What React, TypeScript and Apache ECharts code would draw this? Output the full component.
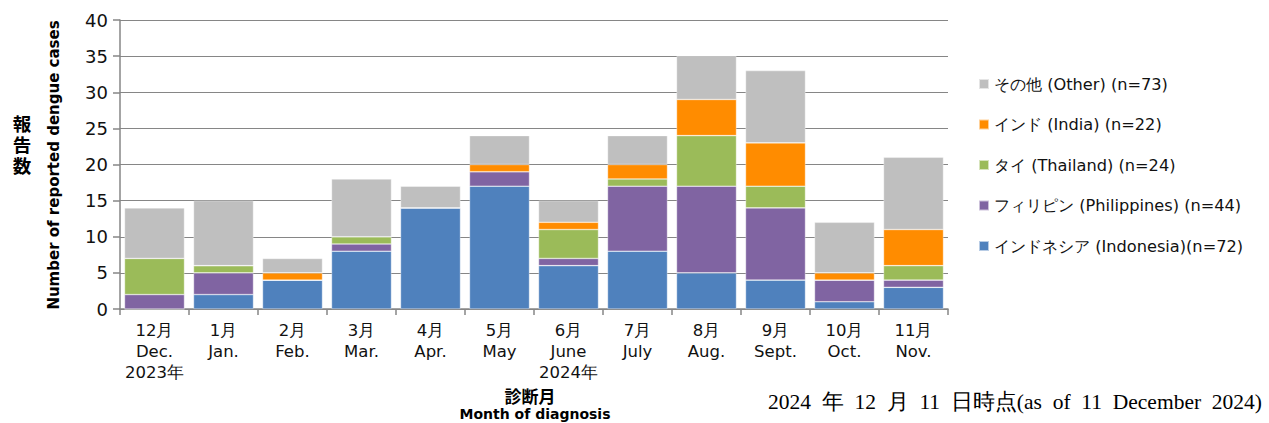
import React, { useEffect, useRef } from "react";
import * as echarts from "echarts";

const categories = [
  "12月\nDec.\n2023年", "1月\nJan.", "2月\nFeb.", "3月\nMar.", "4月\nApr.", "5月\nMay",
  "6月\nJune\n2024年", "7月\nJuly", "8月\nAug.", "9月\nSept.", "10月\nOct.", "11月\nNov.",
];
const indonesia = [0, 2, 4, 8, 14, 17, 6, 8, 5, 4, 1, 3];
const philippines = [2, 3, 0, 1, 0, 2, 1, 9, 12, 10, 3, 1];
const thailand = [5, 1, 0, 1, 0, 0, 4, 1, 7, 3, 0, 2];
const india = [0, 0, 1, 0, 0, 1, 1, 2, 5, 6, 1, 5];
const other = [7, 9, 2, 8, 3, 4, 3, 4, 6, 10, 7, 10];

const seriesNames = [
  "インドネシア (Indonesia)(n=72)",
  "フィリピン (Philippines) (n=44)",
  "タイ (Thailand) (n=24)",
  "インド (India) (n=22)",
  "その他 (Other) (n=73)",
];
const seriesData = [indonesia, philippines, thailand, india, other];
const seriesColors = ["#4F81BD", "#8064A2", "#9BBB59", "#FF8C00", "#BFBFBF"];
const yTitleChars = ["報", "告", "数"];

const FONT = "'DejaVu Sans', Verdana, sans-serif";
const CJK = "'Noto Sans CJK JP', sans-serif";

export default function App() {
  const ref = useRef<HTMLDivElement>(null);
  useEffect(() => {
    document.body.style.margin = "0";
    const chart = echarts.init(ref.current!, null, { renderer: "svg" });
    chart.setOption({
      animation: false,
      grid: { left: 120, top: 20, right: 321, bottom: 114, containLabel: false },
      legend: {
        orient: "vertical",
        left: 973,
        top: 71,
        itemWidth: 10,
        itemHeight: 10,
        itemGap: 24.5,
        icon: "rect",
        data: [...seriesNames].reverse(),
        textStyle: { fontFamily: FONT, fontSize: 16.2, color: "#111", lineHeight: 16 },
      },
      xAxis: {
        type: "category",
        data: categories,
        axisLine: { lineStyle: { color: "#868686", width: 1.5 } },
        axisTick: { show: true, length: 6, alignWithLabel: false, lineStyle: { color: "#868686", width: 1.5 } },
        axisLabel: {
          interval: 0,
          fontFamily: FONT,
          fontSize: 16.5,
          color: "#111",
          lineHeight: 21,
          margin: 11,
        },
      },
      yAxis: {
        type: "value",
        min: 0,
        max: 40,
        interval: 5,
        axisLine: { show: true, lineStyle: { color: "#868686", width: 1.5 } },
        axisTick: { show: true, length: 7, lineStyle: { color: "#868686", width: 1.5 } },
        splitLine: { lineStyle: { color: "#868686", width: 1.2 } },
        axisLabel: { fontFamily: FONT, fontSize: 18, color: "#111", margin: 12 },
      },
      series: seriesNames.map((name, i) => ({
        name,
        type: "bar",
        stack: "total",
        barWidth: 60,
        data: seriesData[i],
        itemStyle: { color: seriesColors[i], borderColor: "rgba(255,255,255,0.6)", borderWidth: 0.6 },
      })),
      graphic: [
        ...yTitleChars.map((ch, i) => ({
          type: "text",
          x: 22,
          y: 123 + i * 21,
          style: {
            text: ch,
            fontFamily: CJK,
            fontWeight: "bold",
            fontSize: 18.5,
            lineHeight: 19,
            fill: "#000",
            align: "center",
            verticalAlign: "middle",
          },
        })),
        {
          type: "text",
          x: 54,
          y: 165,
          rotation: Math.PI / 2,
          style: {
            text: "Number of reported dengue cases",
            fontFamily: FONT,
            fontWeight: "bold",
            fontSize: 15,
            fill: "#000",
            align: "center",
            verticalAlign: "middle",
          },
        },
        {
          type: "text",
          x: 530,
          y: 395,
          style: {
            text: "診断月",
            fontFamily: CJK,
            fontWeight: "bold",
            fontSize: 17,
            fill: "#000",
            align: "center",
            verticalAlign: "middle",
          },
        },
        {
          type: "text",
          x: 535,
          y: 414,
          style: {
            text: "Month of diagnosis",
            fontFamily: FONT,
            fontWeight: "bold",
            fontSize: 14,
            fill: "#000",
            align: "center",
            verticalAlign: "middle",
          },
        },
        {
          type: "text",
          x: 1262,
          y: 402,
          style: {
            text: "2024  年  12  月  11  日時点(as  of  11  December  2024)",
            fontFamily: "'Liberation Serif', 'DejaVu Serif', serif",
            fontSize: 21.5,
            fill: "#000",
            align: "right",
            verticalAlign: "middle",
          },
        },
      ],
    });
    return () => chart.dispose();
  }, []);
  return <div ref={ref} style={{ width: 1269, height: 423 }} />;
}
